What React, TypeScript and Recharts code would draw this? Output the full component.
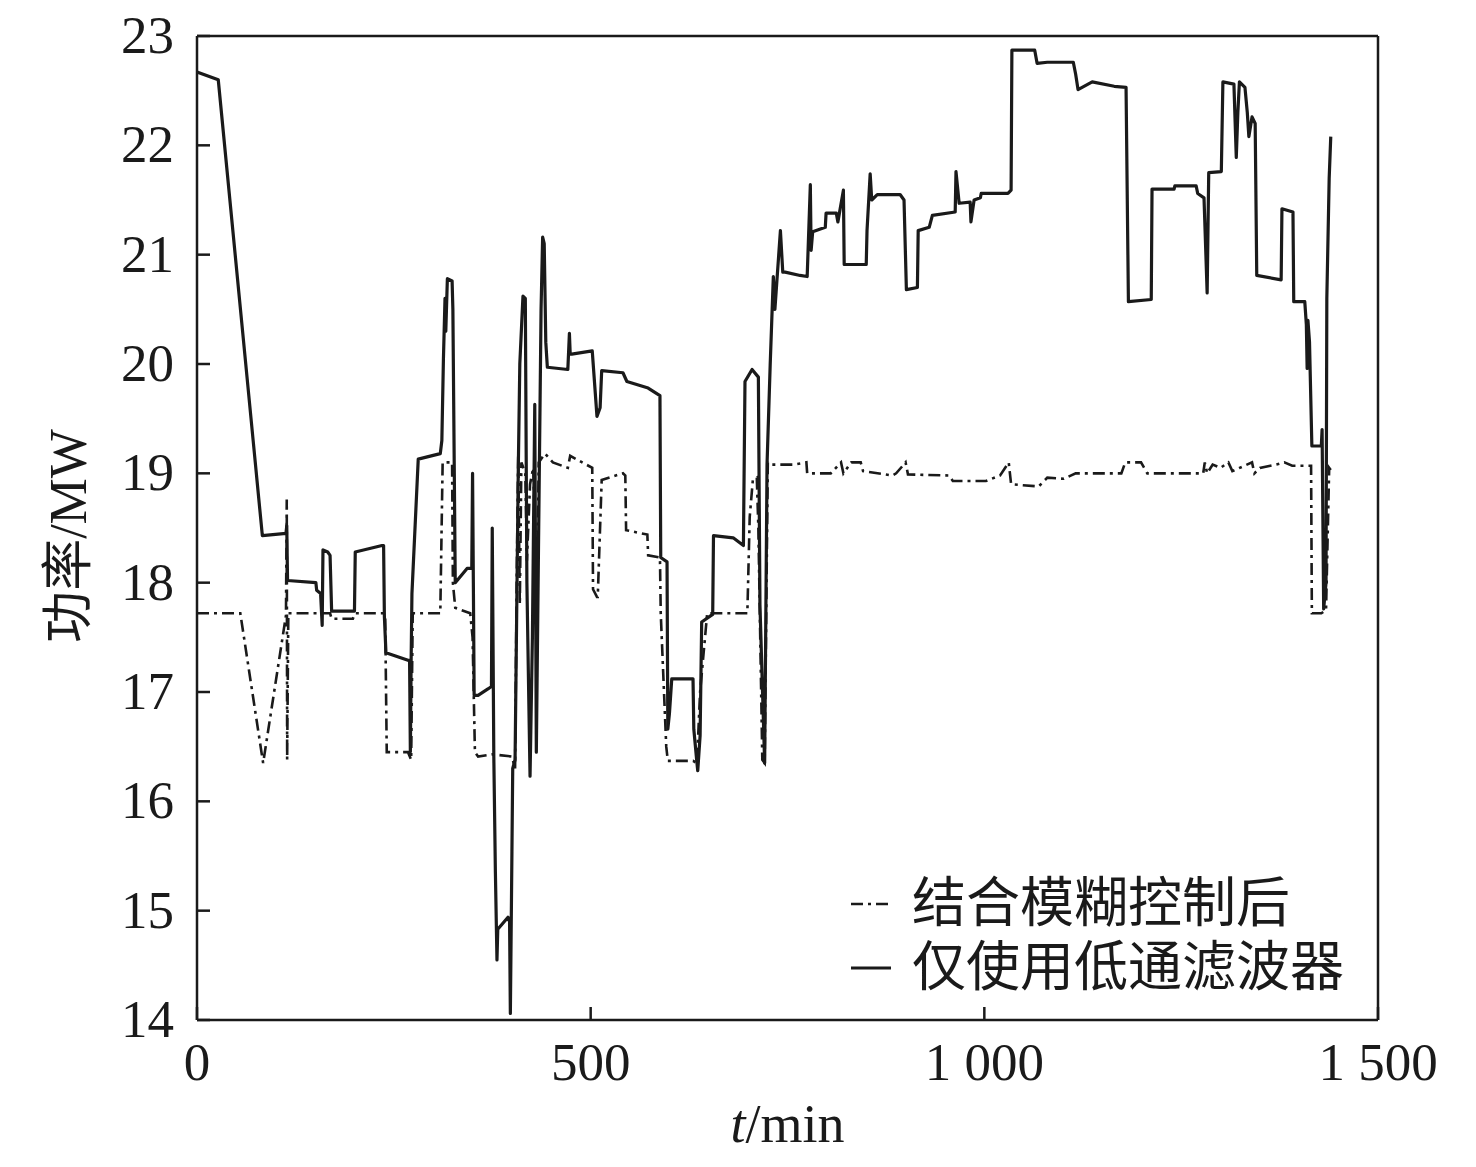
import { Label, Line, LineChart, ReferenceLine, XAxis, YAxis } from "recharts";

// 仅使用低通滤波器 (t/min, 功率/MW)
const lowPassSeries: [number, number][] = [
  [0, 22.67], [27, 22.6], [83, 18.43], [113, 18.45], [114, 18.52], [115, 18.02], [151, 18.0], [152, 17.93],
  [157, 17.9], [159, 17.61], [160, 18.3], [166, 18.28], [169, 18.25], [171, 17.74], [198, 17.74], [200, 17.74],
  [201, 18.28], [235, 18.34], [237, 18.34], [238, 17.69], [240, 17.36], [268, 17.29], [270, 17.29], [271, 16.45],
  [272, 17.3], [273, 17.9], [281, 19.13], [309, 19.18], [311, 19.3], [313, 20.05], [315, 20.6], [316, 20.3],
  [318, 20.78], [324, 20.76], [325, 20.5], [328, 18.0], [343, 18.13], [349, 18.13], [350, 19.0], [351, 18.0],
  [352, 16.97], [357, 16.97], [370, 17.03], [374, 17.05], [375, 18.5], [377, 16.4], [379, 15.35], [381, 14.55],
  [382, 14.83], [395, 14.94], [397, 14.9], [398, 14.06], [400, 15.54], [401, 16.3], [404, 16.38], [408, 19.0],
  [410, 20.0], [414, 20.62], [417, 20.6], [419, 18.0], [423, 16.23], [426, 17.5], [429, 19.63], [431, 16.45],
  [434, 18.5], [437, 20.5], [439, 21.16], [441, 21.1], [443, 20.2], [445, 19.97], [471, 19.95], [473, 20.28],
  [474, 20.09], [476, 20.09], [502, 20.12], [508, 19.52], [512, 19.6], [514, 19.94], [541, 19.92], [546, 19.84],
  [573, 19.78], [588, 19.71], [589, 18.23], [597, 18.19], [598, 16.66], [600, 16.8], [603, 17.12], [630, 17.12],
  [631, 16.66], [635, 16.35], [636, 16.28], [639, 16.6], [641, 17.64], [655, 17.71], [656, 18.43], [681, 18.41],
  [694, 18.34], [696, 19.84], [705, 19.95], [713, 19.88], [715, 17.8], [721, 16.35], [724, 19.08], [728, 19.99],
  [732, 20.8], [734, 20.5], [741, 21.22], [744, 20.84], [747, 20.84], [766, 20.81], [775, 20.8], [779, 21.64],
  [780, 21.04], [782, 21.21], [798, 21.25], [799, 21.38], [812, 21.38], [814, 21.3], [821, 21.59], [822, 20.91],
  [850, 20.91], [851, 21.22], [855, 21.74], [857, 21.5], [864, 21.55], [893, 21.55], [898, 21.5], [901, 20.68],
  [915, 20.7], [916, 21.22], [930, 21.25], [934, 21.36], [963, 21.39], [964, 21.76], [968, 21.47], [982, 21.48],
  [983, 21.3], [987, 21.5], [995, 21.52], [996, 21.56], [1030, 21.56], [1034, 21.59], [1035, 22.87], [1064, 22.87],
  [1067, 22.75], [1080, 22.76], [1113, 22.76], [1116, 22.65], [1119, 22.51], [1137, 22.58], [1165, 22.54], [1180, 22.53],
  [1183, 20.57], [1212, 20.59], [1213, 21.6], [1241, 21.6], [1242, 21.63], [1269, 21.63], [1271, 21.56], [1279, 21.52],
  [1283, 20.65], [1285, 21.75], [1301, 21.76], [1303, 22.58], [1317, 22.56], [1320, 21.89], [1322, 22.3], [1324, 22.58],
  [1331, 22.53], [1334, 22.3], [1336, 22.08], [1340, 22.26], [1344, 22.2], [1346, 20.81], [1377, 20.77], [1378, 21.42],
  [1392, 21.39], [1393, 20.57], [1407, 20.57], [1409, 20.36], [1410, 19.96], [1411, 20.4], [1413, 20.2], [1416, 19.25],
  [1428, 19.25], [1429, 19.4], [1431, 17.76], [1434, 18.0], [1435, 20.6], [1438, 21.7], [1440, 22.08],
];

// 结合模糊控制后
const fuzzySeries: [number, number][] = [
  [0, 17.72], [55, 17.72], [84, 16.35], [113, 17.7], [114, 18.76], [114.5, 16.38], [116, 17.72], [169, 17.72],
  [171, 17.67], [198, 17.67], [201, 17.72], [236, 17.72], [239, 17.69], [241, 16.45], [268, 16.45], [272, 16.38],
  [274, 17.72], [309, 17.72], [312, 19.1], [324, 19.1], [325, 18.0], [328, 17.77], [347, 17.72], [350, 17.5],
  [353, 16.45], [357, 16.41], [375, 16.43], [400, 16.41], [404, 16.3], [406, 18.0], [408, 19.17], [410, 17.8],
  [412, 19.1], [417, 19.0], [419, 18.2], [423, 18.9], [427, 19.05], [432, 17.9], [434, 19.1], [442, 19.18],
  [452, 19.1], [471, 19.05], [474, 19.16], [502, 19.05], [503, 17.94], [508, 17.87], [509, 17.87], [514, 18.94],
  [541, 19.0], [544, 18.98], [545, 18.48], [572, 18.44], [573, 18.25], [588, 18.23], [589, 17.72], [596, 16.5],
  [598, 16.37], [630, 16.37], [635, 16.35], [639, 17.0], [648, 17.72], [699, 17.72], [702, 18.6], [706, 18.94],
  [711, 18.96], [713, 18.5], [718, 16.38], [721, 16.35], [725, 19.1], [730, 19.08], [758, 19.08], [774, 19.1],
  [775, 19.0], [795, 19.0], [805, 19.0], [818, 19.1], [821, 19.0], [831, 19.1], [843, 19.1], [846, 19.02],
  [883, 18.98], [888, 19.0], [900, 19.1], [903, 18.99], [955, 18.98], [960, 18.93], [1002, 18.93], [1020, 18.98],
  [1031, 19.1], [1034, 18.9], [1069, 18.88], [1080, 18.96], [1101, 18.95], [1116, 19.0], [1174, 19.0], [1179, 19.1],
  [1199, 19.1], [1207, 19.0], [1278, 19.0], [1280, 19.1], [1283, 19.0], [1290, 19.08], [1300, 19.05], [1310, 19.1],
  [1315, 19.02], [1340, 19.1], [1343, 19.0], [1350, 19.05], [1371, 19.08], [1381, 19.1], [1391, 19.07], [1415, 19.07],
  [1416, 17.72], [1428, 17.72], [1434, 17.75], [1438, 19.05], [1440, 19.03],
];

const xTicks = [0, 500, 1000, 1500];
const yTicks = [14, 15, 16, 17, 18, 19, 20, 21, 22, 23];

const legendNames = ["结合模糊控制后", "仅使用低通滤波器"];

const serif = "'Liberation Serif', 'Times New Roman', serif";
const cjk = "'Liberation Serif', 'Noto Sans CJK SC', serif";
const DASH = "12 5 3 5";
const INK = "#1a1a1a";

const toRows = (s: [number, number][]) => s.map(([t, p]) => ({ t, p }));

const fmtX = (v: number) => (v >= 1000 ? `${Math.floor(v / 1000)} ${String(v % 1000).padStart(3, "0")}` : String(v));

function XTick(props: any) {
  const { x, y, payload } = props;
  return (
    <g>
      <line x1={x} y1={y} x2={x} y2={y - 13} stroke={INK} strokeWidth={2.5} />
      <text x={x} y={y + 60} textAnchor="middle" fontFamily={serif} fontSize={53} fill={INK}>
        {fmtX(payload.value)}
      </text>
    </g>
  );
}

function YTick(props: any) {
  const { x, y, payload } = props;
  return (
    <g>
      <line x1={x} y1={y} x2={x + 13} y2={y} stroke={INK} strokeWidth={2.5} />
      <text x={x - 23} y={y + 17} textAnchor="end" fontFamily={serif} fontSize={53} fill={INK}>
        {payload.value}
      </text>
    </g>
  );
}

function LegendBox() {
  return (
    <div
      style={{
        position: "absolute",
        left: 838,
        top: 872,
        fontFamily: cjk,
        fontSize: 54,
        color: INK,
        lineHeight: "64px",
      }}
    >
      {legendNames.map((name, i) => (
        <div key={name} style={{ display: "flex", alignItems: "center", height: 64 }}>
          <svg width={74} height={20}>
            <line
              x1={13}
              y1={10}
              x2={53}
              y2={10}
              stroke={INK}
              strokeWidth={i === 0 ? 2.6 : 3.2}
              strokeDasharray={i === 0 ? DASH : undefined}
            />
          </svg>
          <span>{name}</span>
        </div>
      ))}
    </div>
  );
}

export default function App() {
  return (
    <div style={{ position: "absolute", left: 0, top: 0, width: 1476, height: 1167, background: "#fff" }}>
      <LineChart width={1476} height={1167} margin={{ top: 36, right: 98, bottom: 87, left: 137 }}>
        <XAxis
          type="number"
          dataKey="t"
          domain={[0, 1500]}
          ticks={xTicks}
          interval={0}
          height={60}
          tickSize={0}
          tickMargin={0}
          tickLine={false}
          axisLine={{ stroke: INK, strokeWidth: 2.5 }}
          tick={<XTick />}
          allowDataOverflow
        >
          <Label
            content={(p: any) => {
              const vb = p.viewBox;
              return (
                <text x={vb.x + vb.width / 2} y={1142} textAnchor="middle" fontFamily={serif} fontSize={54} fill={INK}>
                  <tspan fontStyle="italic">t</tspan>/min
                </text>
              );
            }}
          />
        </XAxis>
        <YAxis
          type="number"
          domain={[14, 23]}
          ticks={yTicks}
          interval={0}
          width={60}
          tickSize={0}
          tickMargin={0}
          tickLine={false}
          axisLine={{ stroke: INK, strokeWidth: 2.5 }}
          tick={<YTick />}
          allowDataOverflow
        >
          <Label
            content={(p: any) => {
              const vb = p.viewBox;
              const cx = 68;
              const cy = vb.y + vb.height / 2 + 8;
              return (
                <text
                  x={cx}
                  y={cy}
                  transform={`rotate(-90 ${cx} ${cy})`}
                  textAnchor="middle"
                  dominantBaseline="central"
                  fontFamily={cjk}
                  fontSize={52}
                  fill={INK}
                >
                  功率/MW
                </text>
              );
            }}
          />
        </YAxis>
        <ReferenceLine y={23} stroke={INK} strokeWidth={2.5} />
        <ReferenceLine x={1500} stroke={INK} strokeWidth={2.5} />
        <Line
          data={toRows(fuzzySeries)}
          dataKey="p"
          name={legendNames[0]}
          type="linear"
          stroke={INK}
          strokeWidth={2.6}
          strokeDasharray={DASH}
          dot={false}
          activeDot={false}
          isAnimationActive={false}
        />
        <Line
          data={toRows(lowPassSeries)}
          dataKey="p"
          name={legendNames[1]}
          type="linear"
          stroke={INK}
          strokeWidth={3.2}
          strokeLinejoin="round"
          dot={false}
          activeDot={false}
          isAnimationActive={false}
        />
      </LineChart>
      <LegendBox />
    </div>
  );
}
